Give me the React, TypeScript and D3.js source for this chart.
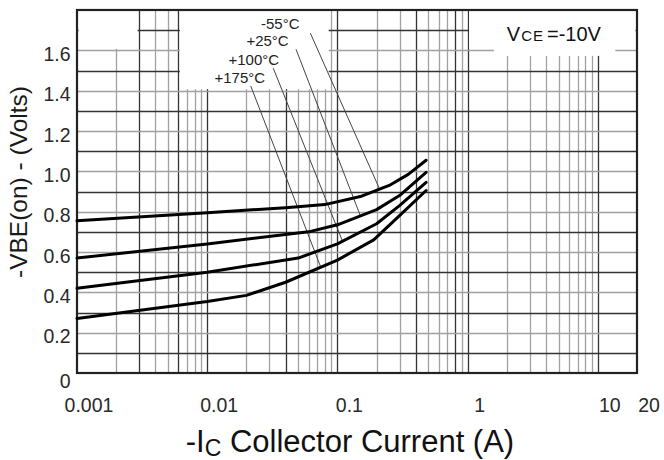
import React, { useRef, useEffect } from "react";
import { select, scaleLog, scaleLinear, line, curveLinear } from "d3";

const width = 664;
const height = 460;

// axis ticks
const xTicks = [0.001, 0.01, 0.1, 1, 10, 20];
const xTickLabels = ["0.001", "0.01", "0.1", "1", "10", "20"];
const yTicks = [0, 0.2, 0.4, 0.6, 0.8, 1.0, 1.2, 1.4, 1.6];
const yTickLabels = ["0", "0.2", "0.4", "0.6", "0.8", "1.0", "1.2", "1.4", "1.6"];

// -Ic (A), -VBE(on) (V)
const curveM55 = [[0.001, 0.755], [0.01, 0.795], [0.04, 0.82], [0.08, 0.835], [0.15, 0.875], [0.25, 0.93], [0.35, 0.985], [0.48, 1.055]];
const curveP25 = [[0.001, 0.57], [0.01, 0.64], [0.06, 0.70], [0.1, 0.735], [0.2, 0.81], [0.3, 0.88], [0.48, 0.995]];
const curveP100 = [[0.001, 0.42], [0.01, 0.50], [0.05, 0.57], [0.1, 0.64], [0.2, 0.74], [0.3, 0.83], [0.48, 0.945]];
const curveP175 = [[0.001, 0.27], [0.01, 0.355], [0.02, 0.385], [0.04, 0.45], [0.1, 0.56], [0.19, 0.66], [0.3, 0.78], [0.48, 0.905]];

const temps = ["-55°C", "+25°C", "+100°C", "+175°C"];
// label anchor (left, baseline) in data units
const labelPos = [[0.0259, 1.705], [0.02, 1.621], [0.01458, 1.527], [0.01138, 1.438]];
// leader lines [from, to]
const leaders = [
  [[0.062, 1.685], [0.21, 0.915]],
  [[0.0481, 1.605], [0.15, 0.78]],
  [[0.0322, 1.511], [0.11, 0.65]],
  [[0.0216, 1.423], [0.075, 0.52]],
];

// grid lines drawn darker in the original
const darkV = [0.003, 0.006, 0.01, 0.04, 0.1, 0.4, 0.8, 1, 10];

// white areas that blank out the grid (data units)
const masks = [
  [0.001, 0.003, 1.8, 1.6],
  [0.006, 0.088, 1.8, 1.4],
  [1.0, 20, 1.8, 1.6],
  [1.55, 14, 1.8, 1.565],
];

function App() {
  const svgRef = useRef(null);

  useEffect(() => {
    const svg = select(svgRef.current);
    svg.selectAll("*").remove();

    const x = scaleLog().domain([0.001, 20]).range([77, 637]);
    const y = scaleLinear().domain([0, 1.8]).range([373, 10]);
    const font = "'Liberation Sans', Arial, sans-serif";

    svg.append("rect").attr("width", width).attr("height", height).attr("fill", "#fff");

    const grid = svg.append("g");
    // vertical grid
    const vLines = [];
    [0.001, 0.01, 0.1, 1, 10].forEach((k) => {
      for (let m = 1; m <= 9; m++) {
        const v = m * k;
        if (v > 0.001 * 1.0001 && v < 20 * 0.9999) vLines.push(v);
      }
    });
    vLines.forEach((v) => {
      const dark = darkV.some((d) => Math.abs(v - d) / d < 1e-6);
      const px = Math.round(x(v)) + 0.5;
      grid.append("line")
        .attr("x1", px).attr("x2", px)
        .attr("y1", y(1.8)).attr("y2", y(0))
        .attr("stroke", dark ? "#333" : "#a0a0a0")
        .attr("stroke-width", 1.3);
    });
    // horizontal grid every 0.1
    for (let i = 1; i < 18; i++) {
      const v = i / 10;
      const py = Math.round(y(v)) + 0.5;
      grid.append("line")
        .attr("x1", x(0.001)).attr("x2", x(20))
        .attr("y1", py).attr("y2", py)
        .attr("stroke", i % 2 === 1 ? "#333" : "#a0a0a0")
        .attr("stroke-width", 1.3);
    }

    // masks
    masks.forEach(([x0, x1, y0, y1]) => {
      svg.append("rect")
        .attr("x", x(x0) + 1.5)
        .attr("y", y(y0))
        .attr("width", x(x1) - x(x0) - 3)
        .attr("height", y(y1) - y(y0) - 1.5)
        .attr("fill", "#fff");
    });

    // border
    svg.append("rect")
      .attr("x", x(0.001)).attr("y", y(1.8))
      .attr("width", x(20) - x(0.001)).attr("height", y(0) - y(1.8))
      .attr("fill", "none").attr("stroke", "#222").attr("stroke-width", 2.2);

    // leader lines
    leaders.forEach(([a, b]) => {
      svg.append("line")
        .attr("x1", x(a[0])).attr("y1", y(a[1]))
        .attr("x2", x(b[0])).attr("y2", y(b[1]))
        .attr("stroke", "#444").attr("stroke-width", 1);
    });

    // curves
    const lineGen = line().x((d) => x(d[0])).y((d) => y(d[1])).curve(curveLinear);
    [curveM55, curveP25, curveP100, curveP175].forEach((c) => {
      svg.append("path")
        .attr("d", lineGen(c))
        .attr("fill", "none")
        .attr("stroke", "#000")
        .attr("stroke-width", 3)
        .attr("stroke-linejoin", "round")
        .attr("stroke-linecap", "round");
    });

    // temperature labels
    temps.forEach((t, i) => {
      svg.append("text")
        .attr("x", x(labelPos[i][0]))
        .attr("y", y(labelPos[i][1]))
        .attr("font-family", font)
        .attr("font-size", 15)
        .attr("fill", "#222")
        .text(t);
    });

    // VCE label
    const vce = svg.append("text")
      .attr("x", x(2))
      .attr("y", y(1.646))
      .attr("font-family", font)
      .attr("font-size", 20)
      .attr("fill", "#111");
    vce.append("tspan").text("V");
    vce.append("tspan").attr("font-size", 15).attr("dx", 1).attr("letter-spacing", 1).text("CE");
    vce.append("tspan").attr("dx", 3).text("=-10V");

    // y tick labels
    yTicks.forEach((v, i) => {
      svg.append("text")
        .attr("x", 70.5)
        .attr("y", y(v) + (v === 0 ? 15 : 10.5))
        .attr("text-anchor", "end")
        .attr("font-family", font)
        .attr("font-size", 19.5)
        .attr("fill", "#2a2a2a")
        .text(yTickLabels[i]);
    });

    // x tick labels
    xTicks.forEach((v, i) => {
      svg.append("text")
        .attr("x", x(v) + 12)
        .attr("y", 412)
        .attr("text-anchor", "middle")
        .attr("font-family", font)
        .attr("font-size", 19.5)
        .attr("fill", "#2a2a2a")
        .text(xTickLabels[i]);
    });

    // x title
    const xt = svg.append("text")
      .attr("x", 350)
      .attr("y", 452)
      .attr("text-anchor", "middle")
      .attr("font-family", font)
      .attr("font-size", 31)
      .attr("fill", "#111");
    xt.append("tspan").text("-I");
    xt.append("tspan").attr("font-size", 23).attr("dy", 4).text("C");
    xt.append("tspan").attr("dy", -4).text(" Collector Current (A)");

    // y title
    svg.append("text")
      .attr("transform", "translate(27,182) rotate(-90)")
      .attr("text-anchor", "middle")
      .attr("font-family", font)
      .attr("font-size", 24.5)
      .attr("fill", "#1a1a1a")
      .text("-VBE(on) - (Volts)");
  }, []);

  return (
    <div style={{ position: "absolute", left: 0, top: 0 }}>
      <svg ref={svgRef} width={width} height={height}></svg>
    </div>
  );
}

export default App;
